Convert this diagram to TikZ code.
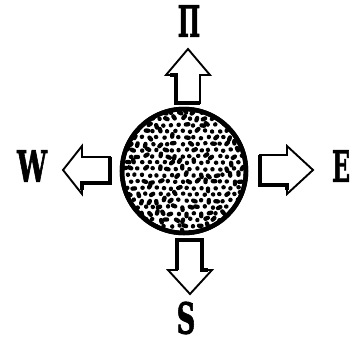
\documentclass[tikz,border=0pt]{standalone}
\usepackage{fontspec}
\usepackage{graphicx}
\newfontfamily\lblfont[FakeBold=2]{DejaVu Serif}
\tikzset{
  lbl/.style={font=\lblfont\bfseries\fontsize{43}{43}\selectfont, inner sep=0pt, anchor=center},
  arrowout/.style={draw=black, line width=1.9pt, fill=white, line join=miter},
  shadowedge/.style={draw=black, line width=4.6pt, line join=miter, line cap=butt},
  globe/.style={circle, minimum size=124pt, inner sep=0pt, draw=black, line width=4.5pt},
  blob/.style={draw=black, line width=4.3pt, line cap=round}
}
\begin{document}
\begin{tikzpicture}[x=1pt,y=-1pt]
\useasboundingbox (0,0) rectangle (360,343);
\fill[white] (0,0) rectangle (360,343);
% globe
\node[globe] (g) at (184,171) {};
\begin{scope}
  \clip (g.center) circle (61pt);
  \pgfmathsetseed{11}
  \foreach \i in {0,...,18}{
    \foreach \j in {0,...,21}{
      \pgfmathsetmacro\xx{116+\i*7.4+mod(\j,2)*3.7+rand*0.8}
      \pgfmathsetmacro\yy{106+\j*6.3+rand*0.8}
      \pgfmathsetmacro\aa{rnd*360}
      \pgfmathsetmacro\ll{rnd>0.5 ? 2.6 : 0.3}
      \draw[blob] (\xx,\yy) -- ++(\aa:\ll);
    }
  }
\end{scope}
\draw[black, line width=4.5pt] (g.center) circle (62pt);
% North arrow
\draw[arrowout] (176,103)--(176,75)--(166,75)--(188,49)--(210,75)--(200,75)--(200,103)--cycle;
\draw[shadowedge] (170,75)--(176,75)--(176,103)--(200,103);
% South arrow
\draw[arrowout] (177,240)--(202,240)--(202,270)--(212,270)--(190,294)--(168,270)--(177,270)--cycle;
\draw[shadowedge] (177,270)--(177,240)--(202,240)--(202,270)--(208,270);
% East arrow
\draw[arrowout] (260,155)--(287,155)--(287,146)--(313,170)--(287,194)--(287,185)--(260,185)--cycle;
\draw[shadowedge] (287,190)--(287,185)--(260,185)--(260,155);
% West arrow
\draw[arrowout] (110,157)--(82,157)--(82,146)--(63,170)--(82,194)--(82,183)--(110,183)--cycle;
\draw[shadowedge] (110,157)--(110,183)--(82,183)--(82,190);
% labels
\node[lbl] (n) at (189,21) {\scalebox{0.55}[1]{Π}};
\node[lbl] (s) at (186,318) {\scalebox{0.6}[1]{S}};
\node[lbl] (e) at (341,166) {\scalebox{0.55}[1]{E}};
\node[lbl] (w) at (32,166) {\scalebox{0.62}[1]{W}};
\end{tikzpicture}
\end{document}
